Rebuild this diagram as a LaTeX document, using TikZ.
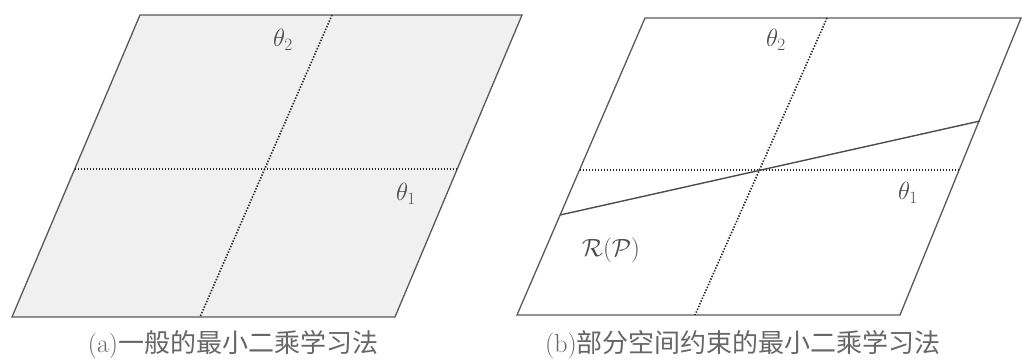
\documentclass[tikz,border=0pt]{standalone}
\usepackage{fontspec}
\newfontfamily\cjk{Noto Sans CJK SC}
\begin{document}
\begin{tikzpicture}[x=1pt,y=-1pt,
  frame/.style={draw=black!65,line width=1.3pt},
  axisline/.style={draw=black!85,line width=1.6pt,dash pattern=on 1.4pt off 1.6pt},
  subline/.style={draw=black!70,line width=1.4pt},
  lbl/.style={font=\fontsize{23}{28}\selectfont,text=black!70,inner sep=0pt},
  captext/.style={font=\fontsize{26}{30}\selectfont,text=black!60,inner sep=0pt}]
\useasboundingbox (0,0) rectangle (1023,360);
% panel (a)
\coordinate (a1) at (12,317);
\coordinate (a2) at (395,317);
\coordinate (a3) at (522,15);
\coordinate (a4) at (140,15);
\coordinate (ah1) at (75,169);
\coordinate (ah2) at (457,169);
\coordinate (av1) at (332,15);
\coordinate (av2) at (200,317);
\fill[black!6] (a1) -- (a2) -- (a3) -- (a4) -- cycle;
\draw[frame] (a1) -- (a2) -- (a3) -- (a4) -- cycle;
\draw[axisline] (ah1) -- (ah2);
\draw[axisline] (av1) -- (av2);
\node[lbl] (ta2) at (283,40) {$\theta_2$};
\node[lbl] (ta1) at (406,194) {$\theta_1$};
\node[captext] (capa) at (233,345) {(a){\cjk 一般的最小二乘学习法}};
% panel (b)
\coordinate (b1) at (517,315);
\coordinate (b2) at (900,315);
\coordinate (b3) at (1021,18);
\coordinate (b4) at (645,18);
\coordinate (bh1) at (580,170);
\coordinate (bh2) at (960,170);
\coordinate (bv1) at (827,18);
\coordinate (bv2) at (695,315);
\coordinate (r1) at (560,215);
\coordinate (r2) at (980,121);
\draw[frame] (b1) -- (b2) -- (b3) -- (b4) -- cycle;
\draw[axisline] (bh1) -- (bh2);
\draw[axisline] (bv1) -- (bv2);
\draw[subline] (r1) -- (r2);
\node[lbl] (tb2) at (776,40) {$\theta_2$};
\node[lbl] (tb1) at (908,193) {$\theta_1$};
\node[lbl] (rp) at (611,250) {$\mathcal{R}(\mathcal{P})$};
\node[captext] (capb) at (743,345) {(b){\cjk 部分空间约束的最小二乘学习法}};
\end{tikzpicture}
\end{document}
